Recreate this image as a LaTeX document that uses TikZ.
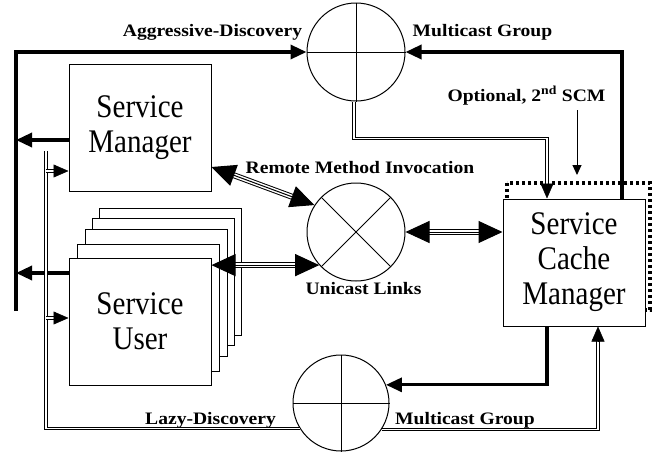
\documentclass[tikz,border=0pt]{standalone}
\usepackage{fontspec}
\setmainfont{Liberation Serif}
\newfontfamily\lblfont{Liberation Serif Bold}[FakeStretch=1.12]
\newfontfamily\boxfont{Liberation Serif}[FakeStretch=0.88]
\usetikzlibrary{arrows.meta}
\begin{document}
\begin{tikzpicture}[x=1pt,y=-1pt,
  box/.style={draw, line width=1pt, fill=white, minimum width=142pt, minimum height=127pt, inner sep=0pt, align=center, font=\boxfont\fontsize{33}{35}\selectfont},
  ring/.style={circle, draw, line width=1pt, inner sep=0pt},
  lbl/.style={font=\lblfont\fontsize{17.5}{20}\selectfont, anchor=base, inner sep=0pt},
  tk/.style={line width=3.3pt, -{Triangle[length=16pt,width=14pt]}},
  dbl/.style={line width=1pt, double, double distance=1.5pt},
  dtip/.style={line width=0.5pt, -{Triangle[length=15pt,width=13pt]}},
  trip/.style={line width=1pt, double, double distance=4pt, shorten <=22pt, shorten >=22pt},
  ttip/.style={line width=1pt, {Triangle[length=24pt,width=22pt]}-{Triangle[length=24pt,width=22pt]}},
  cross/.style={line width=1pt},
]
\useasboundingbox (0,0) rectangle (654,453);

% dotted optional SCM outline
\draw[line width=3.3pt, dash pattern=on 3pt off 3pt] (507,183) rectangle (650,310);

% boxes
\node[box] (sm) at (140,127.5) {Service\\Manager};
\node[box] (su5) at (170,271.5) {};
\node[box] (su4) at (163,281.5) {};
\node[box] (su3) at (156,292.5) {};
\node[box] (su2) at (148,307.5) {};
\node[box] (su) at (140,321.5) {Service\\User};
\node[box] (scm) at (574,262.5) {Service\\Cache\\Manager};

% circles
\node[ring, minimum size=98pt] (mc1) at (356,52) {};
\node[ring, minimum size=98pt] (uc) at (356,232) {};
\node[ring, minimum size=96pt] (mc2) at (341,403) {};
\draw[cross] (mc1.north) -- (mc1.south) (mc1.west) -- (mc1.east);
\draw[cross] (mc2.north) -- (mc2.south) (mc2.west) -- (mc2.east);
\draw[cross] (uc.45) -- (uc.225) (uc.135) -- (uc.315);

% labels
\node[lbl] (agg) at (212.5,36) {Aggressive-Discovery};
\node[lbl] (mg1) at (482.5,36) {Multicast Group};
\node[lbl] (opt) at (526.5,101) {Optional, 2\textsuperscript{nd} SCM};
\node[lbl] (rmi) at (360,173) {Remote Method Invocation};
\node[lbl] (ucl) at (363.5,294) {Unicast Links};
\node[lbl] (lazy) at (210.5,424) {Lazy-Discovery};
\node[lbl] (mg2) at (465,424) {Multicast Group};

% thick left bus and aggressive discovery
\coordinate (L2) at (16,311);
\draw[tk] (L2) |- (mc1.west);
\draw[tk] (sm.west |- 0,140) -- (L2 |- 0,140);
\draw[tk] (su.west |- 0,273) -- (L2 |- 0,273);

% SCM -> top multicast group
\draw[tk] ([xshift=48pt]scm.north) |- (mc1.east);
% SCM -> bottom multicast group
\draw[tk] ([xshift=-27pt]scm.south) |- (mc2.22);

% double lines: lazy discovery bus
\coordinate (D1) at (46,151);
\draw[dbl] (D1) |- (mc2.212.8);
\coordinate (smin) at (sm.west |- 0,171);
\coordinate (suin) at (su.west |- 0,318);
\draw[dbl, shorten >=14pt] (D1 |- smin) -- (smin);
\draw[dtip] ([xshift=-15pt]smin) -- (smin);
\draw[dbl, shorten >=14pt] (D1 |- suin) -- (suin);
\draw[dtip] ([xshift=-15pt]suin) -- (suin);

% bottom multicast -> SCM
\coordinate (scmb) at ([xshift=24pt]scm.south);
\draw[dbl, shorten >=14pt] (mc2.327.2) -| (scmb);
\draw[dtip] ([yshift=-15pt]scmb) -- (scmb);

% top multicast -> SCM
\coordinate (m1s) at ([xshift=-2pt]mc1.south);
\coordinate (scmt) at ([xshift=-27pt]scm.north);
\draw[dbl, shorten >=14pt] (m1s) -- ++(0,37) -| (scmt);
\draw[dtip] ([yshift=15pt]scmt) -- (scmt);

% optional second SCM arrow
\coordinate (optend) at (577,175);
\draw[line width=1pt, -{Triangle[length=10pt,width=9pt]}] (optend |- 0,110) -- (optend);

% unicast triple links
\coordinate (rmiA) at ([yshift=-39.5pt]sm.east);
\draw[trip] (rmiA) -- (uc.147);
\draw[ttip] (rmiA) -- (uc.147);
\coordinate (ucA) at (uc.222 -| su.east);
\draw[trip] (ucA) -- (uc.222);
\draw[ttip] (ucA) -- (uc.222);
\coordinate (scmA) at (uc.east -| scm.west);
\draw[trip] (uc.east) -- (scmA);
\draw[ttip] (uc.east) -- (scmA);
\end{tikzpicture}
\end{document}
